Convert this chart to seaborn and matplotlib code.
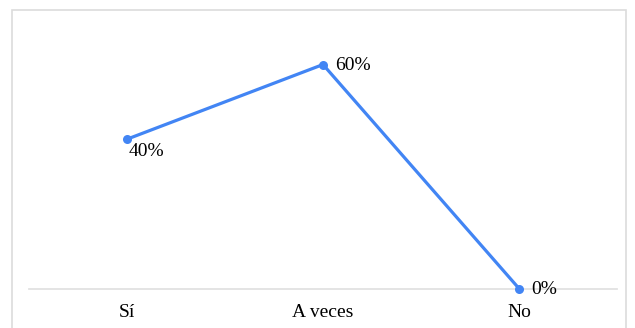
import matplotlib
matplotlib.use("Agg")
import matplotlib.pyplot as plt
from matplotlib.patches import Rectangle
import seaborn as sns
import pandas as pd

categories = ["Sí", "A veces", "No"]
percentages = [40, 60, 0]
value_labels = ["40%", "60%", "0%"]

sns.set_style("white")
plt.rcParams["font.family"] = ["Liberation Serif", "DejaVu Serif"]

df = pd.DataFrame({"categoria": categories, "porcentaje": percentages})

fig = plt.figure(figsize=(6.35, 3.28), dpi=100)
ax = fig.add_axes([29 / 635, (328 - 288.5) / 328, 588 / 635, 261.3 / 328])

sns.lineplot(data=df, x="categoria", y="porcentaje", ax=ax, sort=False,
             color="#4285F4", linewidth=2.3, marker="o", markersize=6.5,
             markeredgewidth=0, clip_on=False)

ax.set_xlim(-0.5, 2.5)
ax.set_ylim(0, 70)
ax.set_xlabel("")
ax.set_ylabel("")
ax.set_yticks([])
ax.tick_params(axis="x", length=0, pad=11, labelsize=14, colors="black")
for side in ["left", "right", "top"]:
    ax.spines[side].set_visible(False)
ax.spines["bottom"].set_color("#e2e2e2")
ax.spines["bottom"].set_linewidth(1.3)
ax.spines["bottom"].set_zorder(0)

# value annotations next to each point
offsets = [(1, -3, "left", "top"), (9, -1, "left", "center"), (9, -1, "left", "center")]
for i, (lab, val) in enumerate(zip(value_labels, percentages)):
    dx, dy, ha, va = offsets[i]
    ax.annotate(lab, (i, val), xytext=(dx, dy), textcoords="offset points",
                ha=ha, va=va, fontsize=14, color="black", annotation_clip=False)

# light frame around the chart area
fig.patches.append(Rectangle((12 / 635, -0.05), 614 / 635, 1.05 - 10.5 / 328,
                             transform=fig.transFigure, fill=False,
                             edgecolor="#dcdcdc", linewidth=1.2))

fig.savefig("out.png", dpi=100)
